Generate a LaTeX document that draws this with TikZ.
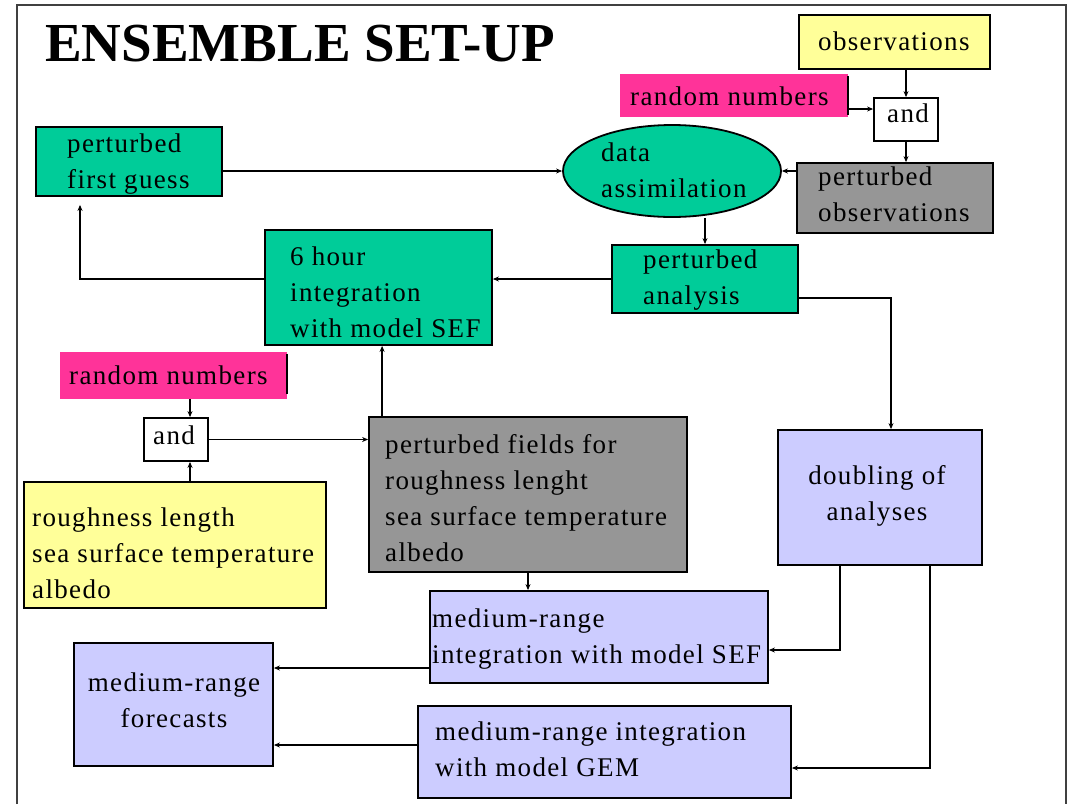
\documentclass[tikz,border=0pt]{standalone}
\usepackage{fontspec}
\setmainfont{Liberation Serif}[LetterSpace=5]
\newfontfamily\titlefont{Liberation Serif}
\usetikzlibrary{arrows.meta}
\usetikzlibrary{shapes.geometric}
\definecolor{sefgreen}{RGB}{0,204,153}
\definecolor{obsyellow}{RGB}{255,255,153}
\definecolor{rndpink}{RGB}{255,51,153}
\definecolor{fieldgray}{RGB}{150,150,150}
\definecolor{lilac}{RGB}{204,204,255}
\tikzset{
  box/.style={draw, line width=1.8pt, inner sep=0pt, rectangle},
  txt/.style={anchor=north west, inner sep=0pt, align=left, font=\fontsize{27}{36}\selectfont},
  flow/.style={line width=1.6pt, -{Stealth[length=6pt,width=5pt]}},
}

\begin{document}
\begin{tikzpicture}[x=1pt,y=-1pt]
\useasboundingbox (0,0) rectangle (1068,804);
\draw[line width=2.8pt, black!75] (17,804) -- (17,5) -- (1066,5) -- (1066,804);
\node[anchor=base west, inner sep=0pt, font=\titlefont\bfseries\fontsize{55}{60}\selectfont] (title) at (45,61) {ENSEMBLE SET-UP};

\node[box, fill=obsyellow, minimum width=191pt, minimum height=54pt] (obs) at (894.5,42) {};
\node[rectangle, inner sep=0pt, fill=rndpink, minimum width=228pt, minimum height=43pt] (rnd1) at (734,95.5) {};
\draw[line width=1.8pt] ([yshift=-2pt]rnd1.north east) -- ([yshift=2pt]rnd1.south east);
\node[box, fill=white, minimum width=64pt, minimum height=43pt] (and1) at (906,119.5) {};
\node[ellipse, draw, line width=1.8pt, inner sep=0pt, fill=sefgreen, minimum width=218pt, minimum height=92pt] (assim) at (672,171) {};
\node[box, fill=fieldgray, minimum width=196pt, minimum height=70pt] (pobs) at (895,198) {};
\node[box, fill=sefgreen, minimum width=186pt, minimum height=69pt] (fguess) at (129,161.5) {};
\node[box, fill=sefgreen, minimum width=186pt, minimum height=68pt] (panal) at (705,279) {};
\node[box, fill=sefgreen, minimum width=227pt, minimum height=115pt] (six) at (378.5,287.5) {};
\node[rectangle, inner sep=0pt, fill=rndpink, minimum width=227pt, minimum height=47pt] (rnd2) at (173.5,375.5) {};
\draw[line width=1.8pt] ([yshift=-2pt]rnd2.north east) -- ([yshift=5pt]rnd2.south east);
\node[box, fill=white, minimum width=64pt, minimum height=43pt] (and2) at (176,439.5) {};
\node[box, fill=obsyellow, minimum width=302pt, minimum height=126pt] (rough) at (175,545) {};
\node[box, fill=fieldgray, minimum width=318pt, minimum height=155pt] (fields) at (528,494.5) {};
\node[box, fill=lilac, minimum width=204pt, minimum height=135pt] (dbl) at (880,497.5) {};
\node[box, fill=lilac, minimum width=338pt, minimum height=92pt] (sef) at (599,637) {};
\node[box, fill=lilac, minimum width=199pt, minimum height=123pt] (fcast) at (173.5,704.5) {};
\node[box, fill=lilac, minimum width=373pt, minimum height=92pt] (gem) at (604.5,752) {};

\node[txt] (obst) at (818,32) {observations};
\node[txt] (rnd1t) at (630,87) {random numbers};
\node[txt] (and1t) at (887,104) {and};
\node[txt] (assimt) at (601,143) {data\\assimilation};
\node[txt] (pobst) at (818,167) {perturbed\\observations};
\node[txt] (panalt) at (643,250) {perturbed\\analysis};
\node[txt] (fguesst) at (67,134) {perturbed\\first guess};
\node[txt] (sixt) at (290,247) {6 hour\\integration\\with model SEF};
\node[txt] (rnd2t) at (69,366) {random numbers};
\node[txt] (and2t) at (153,426) {and};
\node[txt] (rought) at (32,508) {roughness length\\sea surface temperature\\albedo};
\node[txt] (fieldst) at (385,434) {perturbed fields for\\roughness lenght\\sea surface temperature\\albedo};
\node[txt, anchor=north, align=center] (dblt) at (877,465) {doubling of\\analyses};
\node[txt] (seft) at (432,609) {medium-range\\integration with model SEF};
\node[txt] (gemt) at (435,722) {medium-range integration\\with model GEM};
\node[txt, anchor=north, align=center] (fcastt) at (174,673) {medium-range\\forecasts};

\draw[flow] (obs.south -| and1.north) -- (and1.north);
\draw[flow] ([yshift=-13.5pt]rnd1.east) -- ([yshift=-13.5pt]rnd1.east -| and1.west);
\draw[flow] (and1.south) -- (and1.south |- pobs.north);
\draw[flow] (assim.east -| pobs.west) -- (assim.east);
\draw[flow] (assim.west -| fguess.east) -- (assim.west);
\draw[flow] (panal.north |- assim.south) -- (panal.north);
\draw[flow] (panal.west) -- (panal.west -| six.east);
\draw[flow] (six.west |- panal.west) -| ([xshift=-49pt, yshift=-8pt]fguess.south);
\draw[flow] ([yshift=-19pt]panal.east) -| ([xshift=11pt]dbl.north);
\draw[flow] ([xshift=14pt]and2.north |- rnd2.south) -- ([xshift=14pt]and2.north);
\draw[flow] ([xshift=14pt]and2.south |- rough.north) -- ([xshift=14pt]and2.south);
\draw[flow] (and2.east) -- (and2.east -| fields.west);
\draw[flow] ([xshift=14pt]fields.north west) -- ([xshift=14pt]fields.north west |- six.south);
\draw[flow] (fields.south) -- (fields.south |- sef.north);
\draw[flow] ([xshift=-40pt]dbl.south) |- ([yshift=-13pt]sef.east);
\draw[flow] ([xshift=50pt]dbl.south) |- ([yshift=-16pt]gem.east);
\draw[flow] ([yshift=-31pt]sef.west) -- ([yshift=-31pt]sef.west -| fcast.east);
\draw[flow] ([yshift=7pt]gem.west) -- ([yshift=7pt]gem.west -| fcast.east);
\end{tikzpicture}
\end{document}
